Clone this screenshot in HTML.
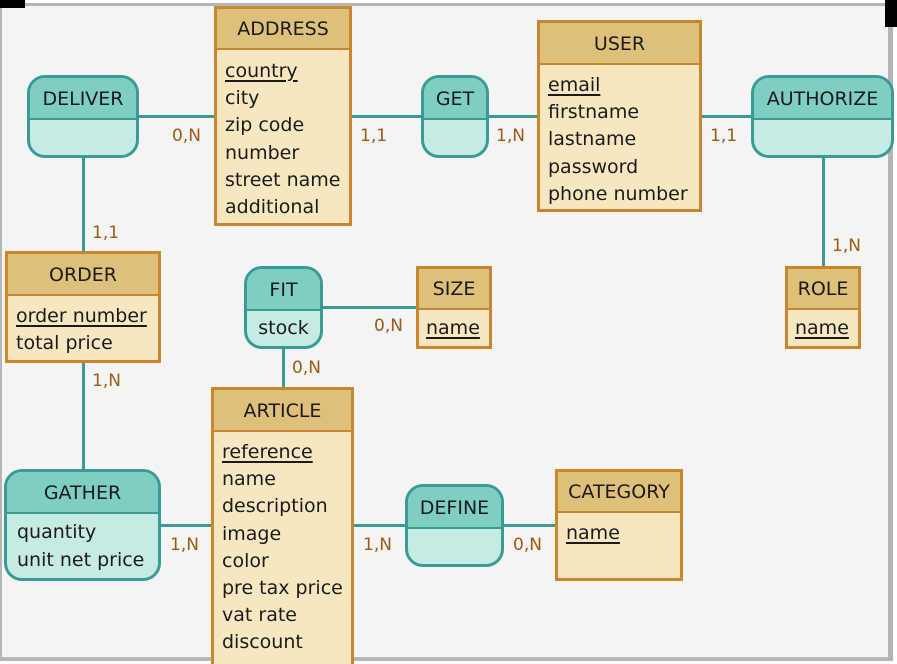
<!DOCTYPE html>
<html style="width:897px;height:664px;overflow:hidden"><head><meta charset="utf-8"><style>
*{box-sizing:border-box;margin:0;padding:0}
body{width:897px;height:664px;overflow:hidden;background:#fff;font-family:"DejaVu Sans","Liberation Sans",sans-serif;font-size:19px;color:#1a1a1a;position:relative}
#bg{position:absolute;left:0;top:3px;width:893px;height:658px;background:#f4f4f4;border-left:2px solid #b5b5b5;border-right:5px solid #b5b5b5;border-top:3px solid #b5b5b5;border-bottom:4px solid #b5b5b5}
.ln{position:absolute;background:#3a9a94}
.e,.r{position:absolute;border:3px solid #c8862e;background:#f7e7c1}
.e .h{background:#dfc07a;border-bottom:2px solid #c8862e;text-align:center}
.e .b{padding:7px 0 0 8px;line-height:27.2px;white-space:nowrap}
.r{border-color:#3a9a94;background:#c6eae4;border-radius:18px;overflow:hidden}
.r .h{background:#7fcec2;border-bottom:2px solid #3a9a94;text-align:center}
.r .b{padding:4px 0 0 10px;line-height:28px;white-space:nowrap}
u{text-decoration:underline;text-underline-offset:3px;text-decoration-thickness:2px}
.c{position:absolute;color:#9a5b14;font-size:17px}
</style></head><body>
<div id="bg"></div>
<div style="position:absolute;left:0;top:0;width:25px;height:8px;background:#000"></div>
<div style="position:absolute;left:885px;top:0;width:12px;height:27px;background:#000"></div>

<div class="ln" style="left:139px;top:115px;width:75px;height:3px"></div>
<div class="ln" style="left:352px;top:115px;width:186px;height:3px"></div>
<div class="ln" style="left:700px;top:115px;width:51px;height:3px"></div>
<div class="ln" style="left:82px;top:158px;width:3px;height:93px"></div>
<div class="ln" style="left:822px;top:158px;width:3px;height:108px"></div>
<div class="ln" style="left:82px;top:362px;width:3px;height:107px"></div>
<div class="ln" style="left:323px;top:306px;width:93px;height:3px"></div>
<div class="ln" style="left:282px;top:348px;width:3px;height:39px"></div>
<div class="ln" style="left:161px;top:524px;width:50px;height:3px"></div>
<div class="ln" style="left:354px;top:524px;width:201px;height:3px"></div>

<div class="e" style="left:214px;top:6px;width:138px;height:220px"><div class="h" style="height:41px;line-height:40px">ADDRESS</div><div class="b" style="padding-top:8px"><u>country</u><br>city<br>zip code<br>number<br>street name<br>additional</div></div>
<div class="e" style="left:537px;top:20px;width:165px;height:192px"><div class="h" style="height:42px;line-height:42px">USER</div><div class="b"><u>email</u><br>firstname<br>lastname<br>password<br>phone number</div></div>
<div class="e" style="left:5px;top:251px;width:156px;height:112px"><div class="h" style="height:42px;line-height:42px">ORDER</div><div class="b"><u>order number</u><br>total price</div></div>
<div class="e" style="left:416px;top:266px;width:76px;height:83px"><div class="h" style="height:41px;line-height:41px">SIZE</div><div class="b" style="padding:5px 0 0 7px"><u>name</u></div></div>
<div class="e" style="left:785px;top:266px;width:76px;height:83px"><div class="h" style="height:41px;line-height:41px">ROLE</div><div class="b" style="padding:5px 0 0 7px"><u>name</u></div></div>
<div class="e" style="left:211px;top:387px;width:143px;height:290px"><div class="h" style="height:42px;line-height:42px">ARTICLE</div><div class="b"><u>reference</u><br>name<br>description<br>image<br>color<br>pre tax price<br>vat rate<br>discount</div></div>
<div class="e" style="left:555px;top:469px;width:128px;height:112px"><div class="h" style="height:41px;line-height:41px">CATEGORY</div><div class="b"><u>name</u></div></div>

<div class="r" style="left:27px;top:75px;width:112px;height:83px"><div class="h" style="height:42px;line-height:42px">DELIVER</div></div>
<div class="r" style="left:421px;top:75px;width:68px;height:83px"><div class="h" style="height:42px;line-height:42px">GET</div></div>
<div class="r" style="left:751px;top:75px;width:143px;height:83px"><div class="h" style="height:42px;line-height:42px">AUTHORIZE</div></div>
<div class="r" style="left:244px;top:266px;width:79px;height:83px"><div class="h" style="height:42px;line-height:42px">FIT</div><div class="b" style="padding:3px 0 0 0;text-align:center">stock</div></div>
<div class="r" style="left:4px;top:469px;width:157px;height:112px"><div class="h" style="height:42px;line-height:42px">GATHER</div><div class="b">quantity<br>unit net price</div></div>
<div class="r" style="left:405px;top:484px;width:99px;height:83px"><div class="h" style="height:42px;line-height:42px">DEFINE</div></div>

<div class="c" style="left:172px;top:126px">0,N</div>
<div class="c" style="left:360px;top:126px">1,1</div>
<div class="c" style="left:496px;top:126px">1,N</div>
<div class="c" style="left:710px;top:126px">1,1</div>
<div class="c" style="left:92px;top:223px">1,1</div>
<div class="c" style="left:832px;top:236px">1,N</div>
<div class="c" style="left:374px;top:316px">0,N</div>
<div class="c" style="left:292px;top:358px">0,N</div>
<div class="c" style="left:92px;top:371px">1,N</div>
<div class="c" style="left:170px;top:535px">1,N</div>
<div class="c" style="left:363px;top:535px">1,N</div>
<div class="c" style="left:513px;top:535px">0,N</div>
</body></html>
